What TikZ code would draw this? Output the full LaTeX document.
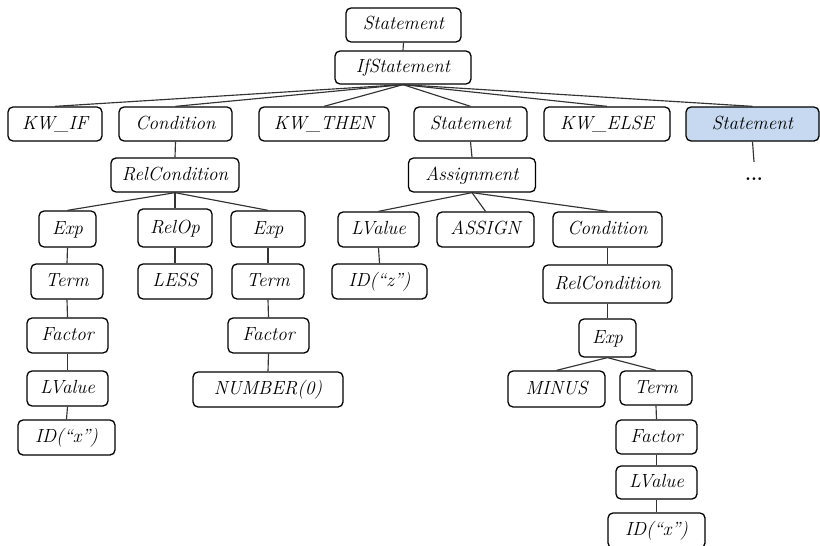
\documentclass[tikz,border=0pt]{standalone}
\begin{document}
\begin{tikzpicture}[x=1pt,y=-1pt,
  tn/.style={draw=black, line width=1.3pt, rounded corners=5pt, fill=white,
    inner sep=0pt, minimum height=35pt, text height=12pt, text depth=2pt,
    font=\fontsize{19}{22}\selectfont\itshape},
  hl/.style={tn, fill=hlblue},
  edge/.style={draw=black!80, line width=1.15pt}]
\definecolor{hlblue}{HTML}{C6D9F0}
\useasboundingbox (0,0) rectangle (820,546);

% top
\node[tn, minimum width=115pt, minimum height=34pt] (s0)   at (403.5,25)  {Statement};
\node[tn, minimum width=136pt, minimum height=33pt] (ifs)  at (403,67.5)  {IfStatement};

% children of the if-statement
\node[tn, minimum width=94pt,  minimum height=34pt] (kwif)   at (55,124)    {KW\_IF};
\node[tn, minimum width=113pt, minimum height=34pt] (cond)   at (175.5,124) {Condition};
\node[tn, minimum width=130pt, minimum height=34pt] (kwthen) at (324,124)   {KW\_THEN};
\node[tn, minimum width=113pt, minimum height=34pt] (stmt)   at (470.5,124) {Statement};
\node[tn, minimum width=126pt, minimum height=34pt] (kwelse) at (607,124)   {KW\_ELSE};
\node[hl, minimum width=133pt, minimum height=34pt] (stmtb)  at (752.5,124) {Statement};
\node[anchor=base, inner sep=2pt, text height=16pt,
      font=\fontsize{19}{22}\selectfont\bfseries] (dots) at (754,180) {...};

% condition branch
\node[tn, minimum width=128pt, minimum height=34pt] (relc)  at (175,175)   {RelCondition};
\node[tn, minimum width=57pt,  minimum height=36pt] (exp1)  at (67.5,229)  {Exp};
\node[tn, minimum width=74pt,  minimum height=38pt] (relop) at (175,228)   {RelOp};
\node[tn, minimum width=74pt,  minimum height=36pt] (exp2)  at (268,229)   {Exp};
\node[tn, minimum width=72pt]  (term1) at (67,281.5)  {Term};
\node[tn, minimum width=74pt]  (less)  at (175,281.5) {LESS};
\node[tn, minimum width=72pt]  (term2) at (268,281.5) {Term};
\node[tn, minimum width=81pt]  (fac1)  at (67.5,335.5) {Factor};
\node[tn, minimum width=81pt]  (fac2)  at (268.5,335.5) {Factor};
\node[tn, minimum width=81pt]  (lv1)   at (67.5,388.5) {LValue};
\node[tn, minimum width=150pt] (num)   at (268,389.5) {NUMBER(0)};
\node[tn, minimum width=97pt]  (idx1)  at (66.5,437.5) {ID(“x”)};

% assignment branch
\node[tn, minimum width=127pt, minimum height=34pt] (asg) at (472,175) {Assignment};
\node[tn, minimum width=81pt]  (lvz)    at (378.5,229.5) {LValue};
\node[tn, minimum width=97pt]  (assign) at (485.5,229.5) {ASSIGN};
\node[tn, minimum width=109pt] (cond2)  at (607.5,229.5) {Condition};
\node[tn, minimum width=95pt]  (idz)    at (379.5,281.5) {ID(“z”)};
\node[tn, minimum width=129pt, minimum height=38pt] (relc2) at (607.5,284) {RelCondition};
\node[tn, minimum width=57pt,  minimum height=38pt] (exp3)  at (607.5,338) {Exp};
\node[tn, minimum width=97pt,  minimum height=36pt] (minus) at (556.5,389) {MINUS};
\node[tn, minimum width=72pt,  minimum height=34pt] (term3) at (656,388)   {Term};
\node[tn, minimum width=81pt,  minimum height=34pt] (fac3)  at (656.5,437) {Factor};
\node[tn, minimum width=81pt,  minimum height=33pt] (lv3)   at (656.5,482.5) {LValue};
\node[tn, minimum width=97pt]  (idx2)  at (656.5,530.5) {ID(“x”)};

% connectors, parent bottom to child top
\path[edge] (s0.south) -- (ifs.north);
\foreach \c in {kwif,cond,kwthen,stmt,kwelse,stmtb}
  \path[edge] (ifs.south) -- (\c.north);
\path[edge] (stmtb.south) -- (dots.north);
\path[edge] (cond.south) -- (relc.north);
\foreach \c in {exp1,relop,exp2}
  \path[edge] (relc.south) -- (\c.north);
\path[edge] (exp1.south) -- (term1.north);
\path[edge] (term1.south) -- (fac1.north);
\path[edge] (fac1.south) -- (lv1.north);
\path[edge] (lv1.south) -- (idx1.north);
\path[edge] (relop.south) -- (less.north);
\path[edge] (exp2.south) -- (term2.north);
\path[edge] (term2.south) -- (fac2.north);
\path[edge] (fac2.south) -- (num.north);
\path[edge] (stmt.south) -- (asg.north);
\foreach \c in {lvz,assign,cond2}
  \path[edge] (asg.south) -- (\c.north);
\path[edge] (lvz.south) -- (idz.north);
\path[edge] (cond2.south) -- (relc2.north);
\path[edge] (relc2.south) -- (exp3.north);
\path[edge] (exp3.south) -- (minus.north);
\path[edge] (exp3.south) -- (term3.north);
\path[edge] (term3.south) -- (fac3.north);
\path[edge] (fac3.south) -- (lv3.north);
\path[edge] (lv3.south) -- (idx2.north);
\end{tikzpicture}
\end{document}
